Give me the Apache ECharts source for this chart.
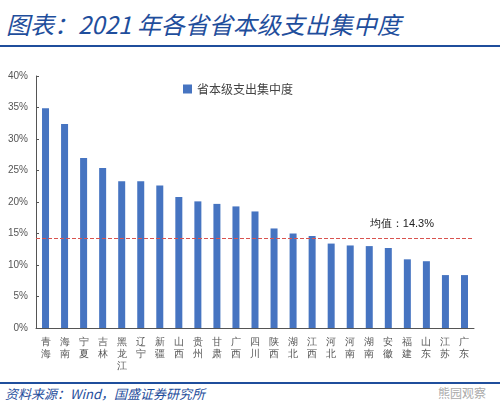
<!DOCTYPE html>
<html><head><meta charset="utf-8">
<script src="https://cdn.jsdelivr.net/npm/echarts@6/dist/echarts.min.js"></script>
<style>
body{margin:0;background:#fff;font-family:"Noto Sans CJK SC";}
#title{position:absolute;left:6px;top:6px;font-size:24px;font-style:italic;color:#1f4e9c;}
#line1{position:absolute;left:0;top:45px;width:500px;border-top:2px solid #1f4e9c;}
#line2{position:absolute;left:0;top:382px;width:500px;border-top:2px solid #1f4e9c;}
#src{position:absolute;left:5px;top:384px;font-size:13px;font-style:italic;color:#1f4e9c;}
#wm{position:absolute;right:14px;top:384px;font-size:12px;color:#aaa;}
#echart{position:absolute;left:0;top:50px;width:500px;height:330px;}
</style></head>
<body>
<div id="title">图表：2021 年各省省本级支出集中度</div>
<div id="line1"></div>
<div id="echart"></div>
<div id="line2"></div>
<div id="src">资料来源：Wind，国盛证券研究所</div>
<div id="wm">熊园观察</div>
<script>
var provinces = ['青海','海南','宁夏','吉林','黑龙江','辽宁','新疆','山西','贵州','甘肃','广西','四川','陕西','湖北','江西','河北','河南','湖南','安徽','福建','山东','江苏','广东'];
var shares = [34.9,32.4,27.0,25.4,23.3,23.3,22.6,20.8,20.1,19.7,19.3,18.5,15.8,15.0,14.6,13.4,13.1,13.0,12.7,10.9,10.6,8.4,8.4];
var meanValue = 14.3;

var myChart = echarts.init(document.getElementById('echart'));
myChart.setOption({
	animation:false,
	grid:{left:36,right:26,top:26,bottom:52},
	legend:{top:28,left:178,itemWidth:9,itemHeight:9,icon:'rect',
		textStyle:{fontSize:12,color:'#444',fontFamily:'Noto Sans CJK SC'},
		data:['省本级支出集中度']},
	xAxis:{type:'category',data:provinces,
		axisLine:{lineStyle:{color:'#555'}},axisTick:{show:false},
		axisLabel:{interval:0,fontSize:10,color:'#555',lineHeight:12,
			formatter:function(v){return v.split('').join('\n');}}},
	yAxis:{type:'value',min:0,max:40,interval:5,
		axisLine:{show:true,lineStyle:{color:'#555'}},axisTick:{show:true,length:3,inside:true},
		splitLine:{show:false},
		axisLabel:{formatter:'{value}%',fontSize:10,color:'#555',fontFamily:'Liberation Sans'}},
	series:[{name:'省本级支出集中度',type:'bar',data:shares,barWidth:7,
		itemStyle:{color:'#4674c1'},
		markLine:{symbol:'none',silent:true,
			lineStyle:{color:'#d9534f',type:'dashed',width:1},
			label:{position:'insideEndTop',formatter:'均值：14.3%',color:'#222',fontSize:11,distance:[40,8]},
			data:[{yAxis:meanValue}]}}]
});
</script>
</body></html>
